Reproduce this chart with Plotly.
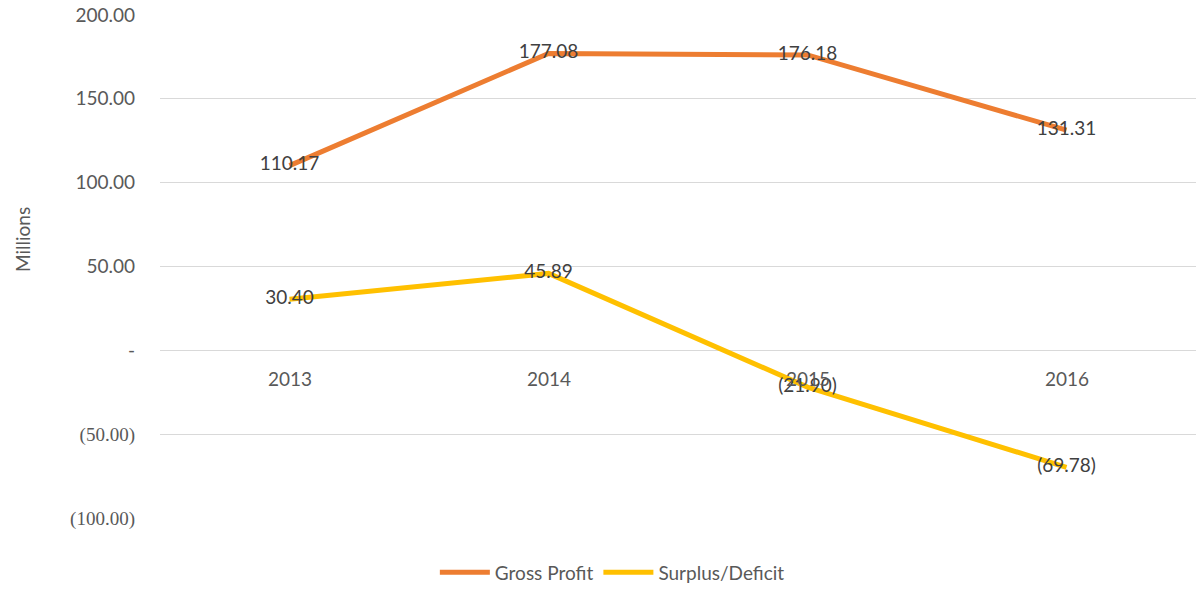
import plotly.graph_objects as go

years = ["2013", "2014", "2015", "2016"]
gross_profit = [110.17, 177.08, 176.18, 131.31]
surplus_deficit = [30.40, 45.89, -21.90, -69.78]
gp_labels = ["110.17", "177.08", "176.18", "131.31"]
sd_labels = ["30.40", "45.89", "(21.90)", "(69.78)"]
y_tickvals = [200, 150, 100, 50, 0, -50, -100]
y_ticktext = ["200.00", "150.00", "100.00", "50.00", "-", "(50.00)", "(100.00)"]

SANS = "Lato, 'Open Sans', sans-serif"

tick_text_styled = []
for v, t in zip(y_tickvals, y_ticktext):
    if v < 0:
        tick_text_styled.append('<span style="font-family:Liberation Serif,serif">' + t + '</span>')
    else:
        tick_text_styled.append(t)

fig = go.Figure()
fig.add_trace(go.Scatter(
    x=years, y=gross_profit, mode="lines+text", name="Gross Profit",
    line=dict(color="#ED7D31", width=5),
    text=gp_labels, textposition="middle center",
    textfont=dict(family=SANS, size=19, color="#404040"),
))
fig.add_trace(go.Scatter(
    x=years, y=surplus_deficit, mode="lines+text", name="Surplus/Deficit",
    line=dict(color="#FFC000", width=5),
    text=sd_labels, textposition="middle center",
    textfont=dict(family=SANS, size=19, color="#404040"),
))

for i, yr in enumerate(years):
    fig.add_annotation(x=i, y=0, xref="x", yref="y", text=yr, showarrow=False,
                       yshift=-28, font=dict(family=SANS, size=19, color="#595959"))

fig.add_annotation(xref="x domain", yref="y domain",
                   x=(22 - 160) / 1036, y=(518 - 240) / 503,
                   xanchor="center", yanchor="middle",
                   text="Millions", showarrow=False, textangle=-90,
                   font=dict(family=SANS, size=19, color="#595959"))

fig.update_layout(
    width=1196, height=590,
    margin=dict(l=160, r=0, t=15, b=72),
    paper_bgcolor="white", plot_bgcolor="white",
    showlegend=True,
    legend=dict(orientation="h", xref="container", yref="container",
                x=0.512, y=0.03, xanchor="center", yanchor="middle",
                font=dict(family=SANS, size=19, color="#595959"),
                itemwidth=50, traceorder="normal"),
    xaxis=dict(type="category", range=[-0.5, 3.5], showticklabels=False,
               showgrid=False, zeroline=False, showline=False, ticks=""),
    yaxis=dict(range=[-100, 200], tickvals=y_tickvals, ticktext=tick_text_styled,
               showgrid=True, gridcolor="#d9d9d9", gridwidth=1,
               zeroline=True, zerolinecolor="#d9d9d9", zerolinewidth=1,
               showline=False, ticks="", ticklabelstandoff=24,
               tickfont=dict(family=SANS, size=19, color="#595959")),
)

fig.write_html("out.html", config={"displayModeBar": False},
               post_script="document.body.style.margin='0';document.body.style.padding='0';")
